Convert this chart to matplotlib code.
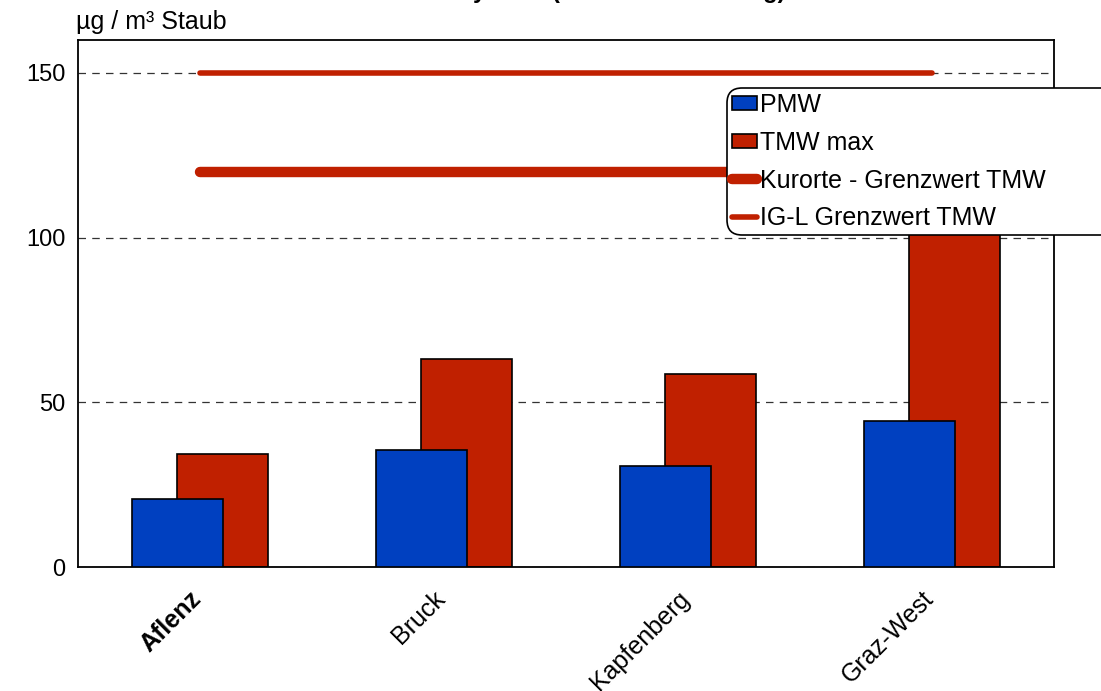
import matplotlib
matplotlib.use("Agg")
import matplotlib.pyplot as plt
import matplotlib.transforms as mtransforms
import numpy as np

plt.rcParams['font.family'] = ['Liberation Sans', 'DejaVu Sans']

# Stations and values (µg/m³)
stations = ["Aflenz", "Bruck", "Kapfenberg", "Graz-West"]
pmw = [20.6, 35.5, 30.6, 44.2]
tmw_max = [34.2, 63.0, 58.5, 125.0]
kurorte_limit = 120
igl_limit = 150

title_text = "Schwebestaub Aflenz Kurortstudy 2004 (Winter-Auswertung)"
ylabel_text = "µg / m³ Staub"
yticks = [0, 50, 100, 150]

blue = "#0040C0"
red = "#C02000"

fig = plt.figure(figsize=(11.01, 6.91), dpi=100)
ax = fig.add_axes([78 / 1101, 1 - 567 / 691, 976 / 1101, 527 / 691])

x = np.arange(len(stations))
w = 0.37
off = 0.092
bar_tmw = ax.bar(x + off, tmw_max, width=w, color=red, edgecolor="black",
                 linewidth=1.2, zorder=2)
bar_pmw = ax.bar(x - off, pmw, width=w, color=blue, edgecolor="black",
                 linewidth=1.2, zorder=3)

line_kur, = ax.plot([x[0], x[-1]], [kurorte_limit] * 2, color=red, linewidth=7.5,
                    solid_capstyle="round", zorder=4)
line_igl, = ax.plot([x[0], x[-1]], [igl_limit] * 2, color=red, linewidth=4,
                    solid_capstyle="round", zorder=4)

ax.set_xlim(-0.5, len(stations) - 0.5)
ax.set_ylim(0, 160)
ax.set_yticks(yticks)
ax.yaxis.grid(True, linestyle=(0, (6, 5)), color="#333333", linewidth=0.9)
ax.set_axisbelow(True)
ax.tick_params(axis="y", length=0, labelsize=17, pad=9)
ax.tick_params(axis="x", length=0, labelsize=18, pad=14)
ax.set_xticks(x)
labels = ax.set_xticklabels(stations, rotation=45, ha="right", va="top")
labels[0].set_fontweight("bold")
shift = mtransforms.ScaledTranslation(6 / 100, 0, fig.dpi_scale_trans)
for lab in ax.get_xticklabels():
    lab.set_transform(lab.get_transform() + shift)
for sp in ax.spines.values():
    sp.set_linewidth(1.3)
    sp.set_color("black")

fig.text(76 / 1101, 1 - 22 / 691, ylabel_text, fontsize=18, ha="left", va="center")
fig.text(444 / 1101, 1.0 + 2 / 691, title_text, fontsize=17, fontweight="bold",
         ha="center", va="baseline")

leg = ax.legend([bar_pmw, bar_tmw, line_kur, line_igl],
                ["PMW", "TMW max", "Kurorte - Grenzwert TMW", "IG-L Grenzwert TMW"],
                loc="upper left", mode="expand",
                bbox_to_anchor=(727 / 1101, 1 - 232 / 691, 400 / 1101, 144 / 691),
                bbox_transform=fig.transFigure, fontsize=18, frameon=True,
                fancybox=True, framealpha=1, edgecolor="black",
                handlelength=1.0, handleheight=0.52, handletextpad=0.1,
                borderpad=0.2, labelspacing=0.55, borderaxespad=0)
frame = leg.get_frame()
frame.set_linewidth(1.2)
frame.set_boxstyle("round,pad=0,rounding_size=0.6")
leg.set_zorder(10)

fig.savefig("out.png", dpi=100)
